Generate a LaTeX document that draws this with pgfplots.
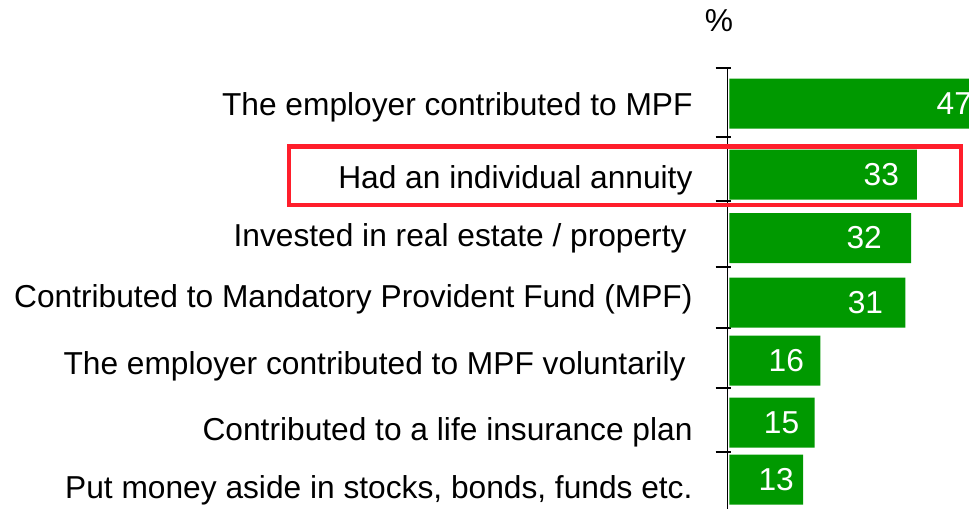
\documentclass[border=0pt]{standalone}
\usepackage{fontspec}
\setmainfont{Liberation Sans}
\usepackage{pgfplots}
\usepackage{pgfplotstable}
\pgfplotsset{compat=1.18}
\definecolor{bargreen}{HTML}{009900}
\definecolor{boxred}{HTML}{FF1E2B}
\newcommand{\lbl}{\fontsize{31.7}{38}\selectfont}

% value, bar centre (px from top), label offset from bar end
\pgfplotstableread{
val  pos    off
47   103.5  -42
33   174.5  -35.5
32   238    -47
31   302.5  -40
16   360.5  -34
15   422.5  -33
13   479.5  -27
}\bars

\begin{document}
\begin{tikzpicture}
\begin{axis}[
  at={(727.7pt,0pt)}, anchor=south west,
  x=5.68pt, y=1pt,
  y dir=reverse,
  xmin=-0.3, xmax=42.18,
  ymin=68, ymax=509,
  enlargelimits=false,
  clip=false,
  xbar, bar width=50,
  axis x line=none,
  axis y line=left,
  y axis line style={-, line width=1.2pt, black},
  ytick={115,188,246,307,374,440,498},
  yticklabels={
    The employer contributed to MPF,
    Had an individual annuity,
    Invested in real estate / property\hspace*{6pt},
    Contributed to Mandatory Provident Fund (MPF),
    The employer contributed to MPF voluntarily\hspace*{7pt},
    Contributed to a life insurance plan,
    {Put money aside in stocks, bonds, funds etc.}},
  major tick length=0pt,
  yticklabel style={font=\lbl, anchor=base east, inner sep=0pt, xshift=-35pt},
  extra y ticks={68,137,201,267,328,388,452},
  extra y tick labels={},
  extra y tick style={major tick length=15pt, tick align=outside,
    tick style={line width=1.2pt, black, xshift=3pt}},
  /pgf/number format/assume math mode=true,
  nodes near coords,
  visualization depends on={\thisrow{off} \as \labeloff},
  every node near coord/.append style={font=\lbl, white, anchor=center, xshift=\labeloff pt},
]
\addplot[draw=none, fill=bargreen] table[x=val, y=pos] {\bars};
\end{axis}
\node[font=\lbl] at (719pt,488pt) {\%};
\draw[boxred, line width=4.5pt] (289pt,362.5pt) rectangle (961pt,304pt);
\pgfresetboundingbox
\useasboundingbox (0pt,0pt) rectangle (969pt,509pt);
\end{tikzpicture}
\end{document}
